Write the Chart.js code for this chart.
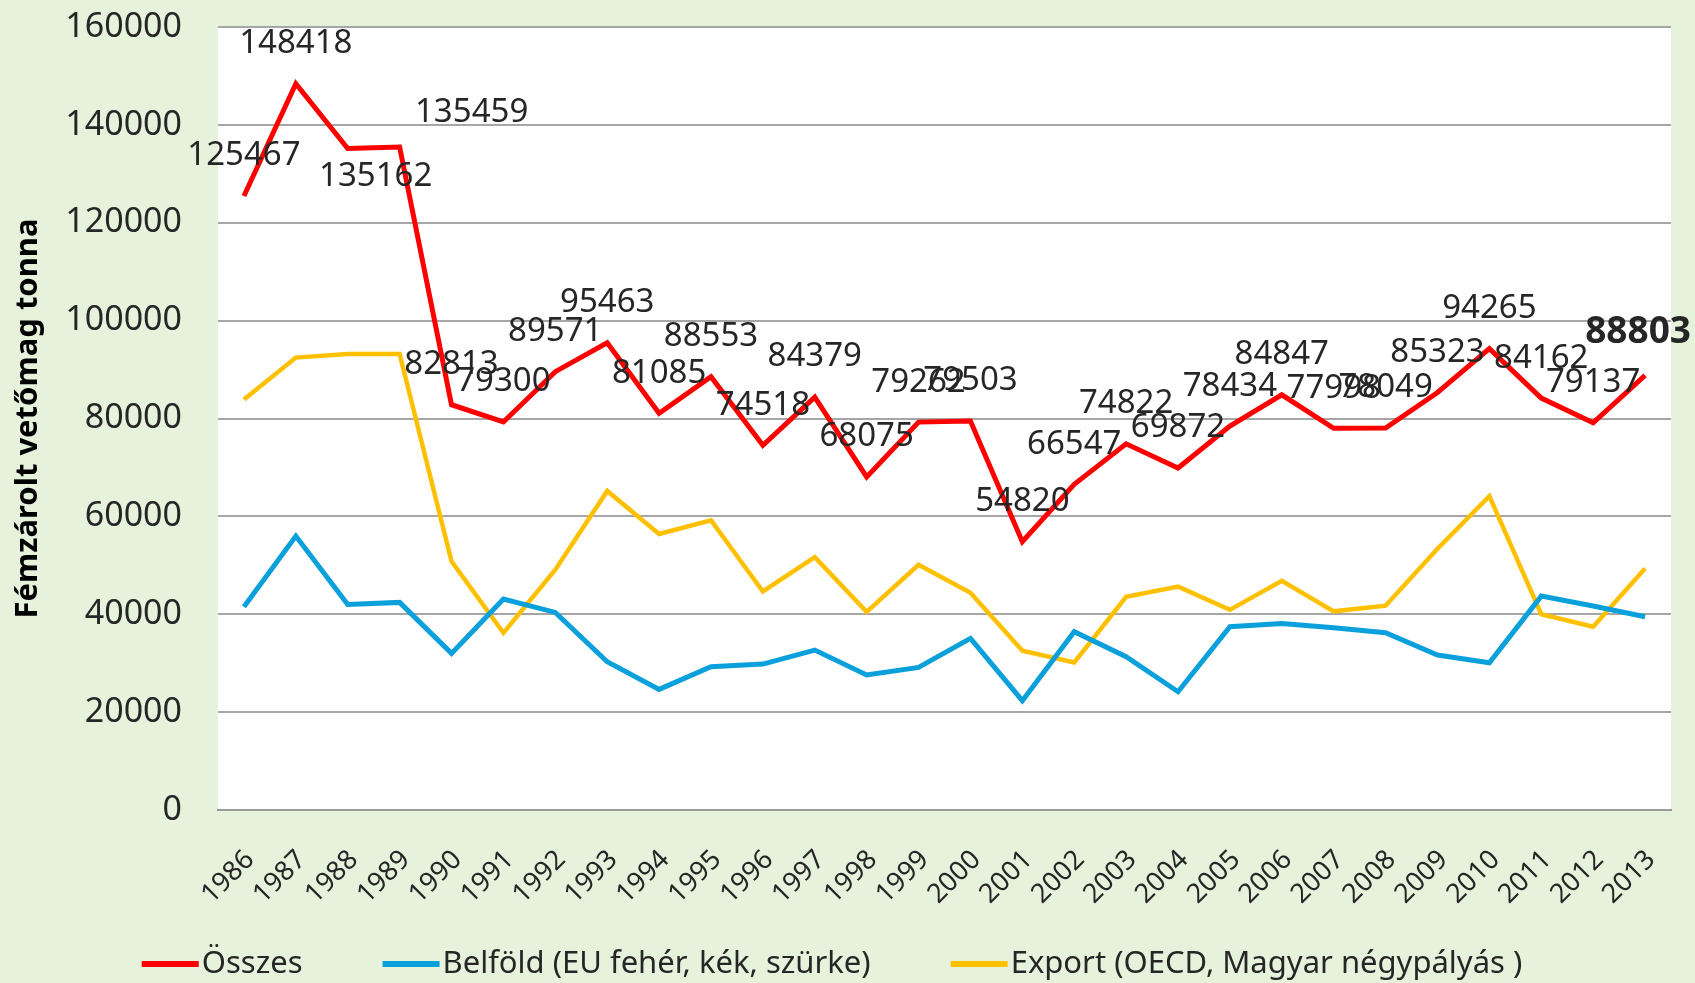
<!DOCTYPE html>
<html>
<head>
    <title>Fémzárolt vetőmag</title>
    <script src="https://cdn.jsdelivr.net/npm/chart.js"></script>
    <style>
        body { margin: 0; background: #e6f2dc; }
        #wrap { width: 1695px; height: 983px; }
    </style>
</head>
<body>
    <div id="wrap"><canvas id="seedChart" width="1695" height="983"></canvas></div>

    <script>
        // values (tonnes)
        const years = ['1986', '1987', '1988', '1989', '1990', '1991', '1992', '1993', '1994', '1995',
                       '1996', '1997', '1998', '1999', '2000', '2001', '2002', '2003', '2004', '2005',
                       '2006', '2007', '2008', '2009', '2010', '2011', '2012', '2013'];
        const osszes = [125467, 148418, 135162, 135459, 82813, 79300, 89571, 95463, 81085, 88553,
                        74518, 84379, 68075, 79262, 79503, 54820, 66547, 74822, 69872, 78434,
                        84847, 77998, 78049, 85323, 94265, 84162, 79137, 88803];
        const belfold = [41530, 55970, 42010, 42420, 32000, 43100, 40380, 30300, 24650, 29280,
                         29820, 32680, 27580, 29140, 35070, 22330, 36430, 31320, 24170, 37450,
                         38130, 37250, 36230, 31660, 30100, 43710, 41670, 39490];
        const exportAdat = [83900, 92450, 93200, 93200, 50800, 36200, 49100, 65200, 56400, 59200,
                            44650, 51650, 40500, 50100, 44400, 32550, 30150, 43550, 45650, 40900,
                            46850, 40600, 41750, 53400, 64150, 40000, 37450, 49350];
        const seriesNames = ['Összes', 'Belföld (EU fehér, kék, szürke)', 'Export (OECD, Magyar négypályás )'];
        const yMin = 0, yMax = 160000, yStep = 20000;

        const FONT = '"Noto Sans", "Open Sans", sans-serif';
        const TEXT = '#262626';

        // a couple of labels were dragged aside in the original
        const labelNudge = { 2: [28, 68], 3: [72, 5] };

        const background = {
            id: 'background',
            beforeDraw(chart) {
                const { ctx, chartArea: a } = chart;
                ctx.save();
                ctx.fillStyle = '#e6f2dc';
                ctx.fillRect(0, 0, chart.width, chart.height);
                ctx.fillStyle = '#ffffff';
                ctx.fillRect(a.left, a.top, a.right - a.left, a.bottom - a.top);
                ctx.restore();
            }
        };

        const valueLabels = {
            id: 'valueLabels',
            afterDatasetsDraw(chart) {
                const { ctx } = chart;
                const meta = chart.getDatasetMeta(0);
                const vals = chart.data.datasets[0].data;
                ctx.save();
                ctx.fillStyle = TEXT;
                ctx.textBaseline = 'middle';
                ctx.textAlign = 'center';
                meta.data.forEach((pt, i) => {
                    const last = i === vals.length - 1;
                    ctx.font = (last ? 'bold 37px ' : '33px ') + FONT;
                    const txt = String(vals[i]);
                    const w = ctx.measureText(txt).width;
                    const n = labelNudge[i] || [0, 0];
                    let x = pt.x + n[0];
                    const y = pt.y - 40 + n[1] - (last ? 3 : 0);
                    if (x + w / 2 > chart.width - 4) x = chart.width - 4 - w / 2;
                    ctx.fillText(txt, x, y);
                });
                ctx.restore();
            }
        };

        const lineLegend = {
            id: 'lineLegend',
            afterDraw(chart) {
                const { ctx } = chart;
                const sets = chart.data.datasets;
                const swatch = 57, gap = 3, spacing = 80;
                ctx.save();
                ctx.font = '31px ' + FONT;
                const widths = sets.map(d => swatch + gap + ctx.measureText(d.label).width);
                const total = widths.reduce((s, w) => s + w, 0) + spacing * (sets.length - 1);
                let x = 832 - total / 2;
                const y = 964;
                sets.forEach((d, i) => {
                    ctx.strokeStyle = d.borderColor;
                    ctx.lineWidth = 6;
                    ctx.beginPath();
                    ctx.moveTo(x, y);
                    ctx.lineTo(x + swatch, y);
                    ctx.stroke();
                    ctx.fillStyle = TEXT;
                    ctx.textBaseline = 'middle';
                    ctx.textAlign = 'left';
                    ctx.fillText(d.label, x + swatch + gap, y);
                    x += widths[i] + spacing;
                });
                ctx.restore();
            }
        };

        new Chart(document.getElementById('seedChart'), {
            type: 'line',
            data: {
                labels: years,
                datasets: [
                    { label: seriesNames[0], data: osszes, borderColor: '#ff0000', backgroundColor: '#ff0000', borderWidth: 5 },
                    { label: seriesNames[1], data: belfold, borderColor: '#0aa0dc', backgroundColor: '#0aa0dc', borderWidth: 5 },
                    { label: seriesNames[2], data: exportAdat, borderColor: '#ffc000', backgroundColor: '#ffc000', borderWidth: 4.5 }
                ]
            },
            options: {
                responsive: false,
                animation: false,
                devicePixelRatio: 1,
                elements: { point: { radius: 0, hoverRadius: 0 }, line: { tension: 0 } },
                layout: { autoPadding: false, padding: { top: 27, right: 24, bottom: 0, left: 0 } },
                plugins: { legend: { display: false }, tooltip: { enabled: false } },
                scales: {
                    x: {
                        offset: true,
                        grid: { display: false, drawTicks: false },
                        border: { display: true, color: '#9a9a9a', width: 2 },
                        ticks: {
                            minRotation: 45, maxRotation: 45, autoSkip: false,
                            padding: 34, labelOffset: 6,
                            color: TEXT, font: { family: FONT, size: 27 }
                        },
                        afterFit(scale) {
                            scale.height = 173;
                            scale.paddingLeft = 0; scale.paddingRight = 0;
                        }
                    },
                    y: {
                        min: yMin, max: yMax,
                        grid: { color: '#a6a6a6', lineWidth: 2, drawTicks: false },
                        border: { display: false },
                        ticks: {
                            stepSize: yStep, padding: 36,
                            color: TEXT, font: { family: FONT, size: 34 },
                            callback: v => String(v)
                        },
                        title: {
                            display: true, text: 'Fémzárolt vetőmag tonna',
                            color: '#000000', padding: { top: 10, bottom: 0 },
                            font: { family: FONT, size: 31, weight: 'bold' }
                        },
                        afterFit(scale) {
                            scale.width = 218;
                            scale.paddingTop = 0; scale.paddingBottom = 0;
                        }
                    }
                }
            },
            plugins: [background, valueLabels, lineLegend]
        });
    </script>
</body>
</html>
